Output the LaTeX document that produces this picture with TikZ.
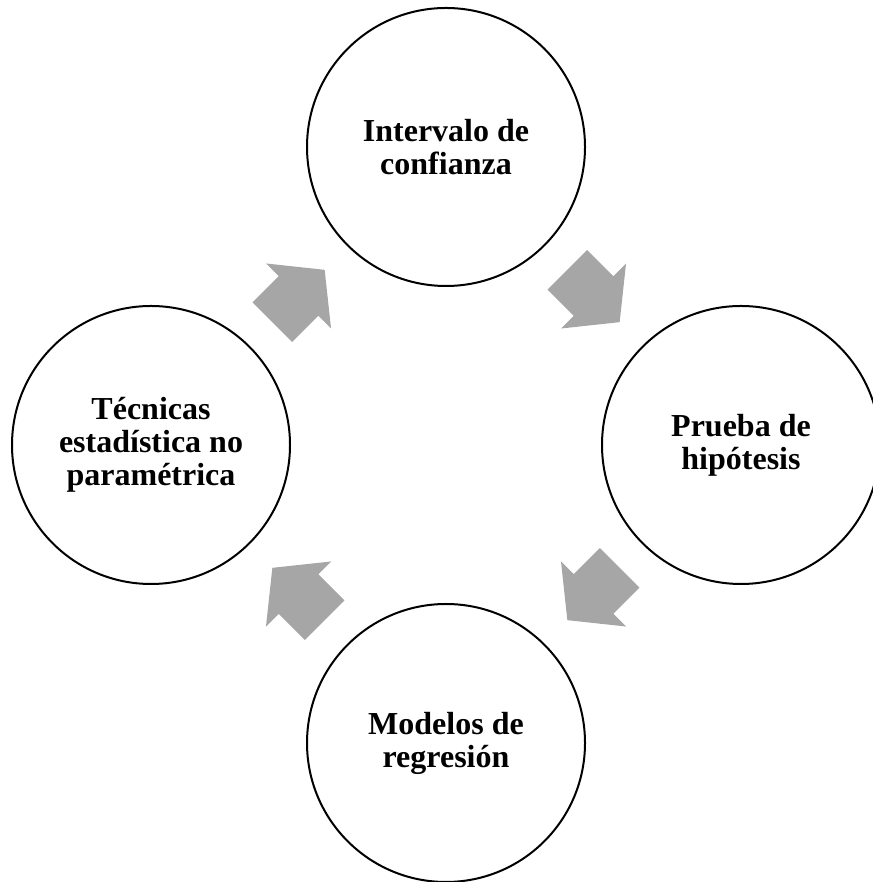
\documentclass[tikz,border=0pt]{standalone}
\usepackage{fontspec}
\setmainfont{Liberation Serif}
\usepackage{xcolor}
\usetikzlibrary{calc, positioning}
\definecolor{grisflecha}{HTML}{A6A6A6}
\def\flecha{(-37,-28) -- (0,-28) -- (0,-46) -- (37,0) -- (0,46) -- (0,28) -- (-37,28) -- cycle}
\tikzset{
    etapa/.style = {circle, draw, line width = 2pt, minimum size = 278pt, align = center,
                    font = \fontsize{32}{33}\selectfont\bfseries},
}

\begin{document}
\begin{tikzpicture}[x = 1pt, y = 1pt]
    % Marco de la figura
    \useasboundingbox (0,0) rectangle (872,882);
    % Etapas
    \node[etapa] (intervalo) at (446,735){Intervalo de\\confianza};
    \node[etapa] (prueba)    at (741,437){Prueba de\\hip\'otesis};
    \node[etapa] (modelos)   at (446,139){Modelos de\\regresi\'on};
    \node[etapa] (tecnicas)  at (151,437){T\'ecnicas\\estad\'istica no\\param\'etrica};
    % Flechas del ciclo
    \begin{scope}[shift = {($(intervalo)!0.5!(prueba)$)}, rotate = -45]
        \fill[grisflecha] \flecha;
    \end{scope}
    \begin{scope}[shift = {($(prueba)!0.5!(modelos)$)}, rotate = -135]
        \fill[grisflecha] \flecha;
    \end{scope}
    \begin{scope}[shift = {($(modelos)!0.5!(tecnicas)$)}, rotate = 135]
        \fill[grisflecha] \flecha;
    \end{scope}
    \begin{scope}[shift = {($(tecnicas)!0.5!(intervalo)$)}, rotate = 45]
        \fill[grisflecha] \flecha;
    \end{scope}
\end{tikzpicture}
\end{document}
